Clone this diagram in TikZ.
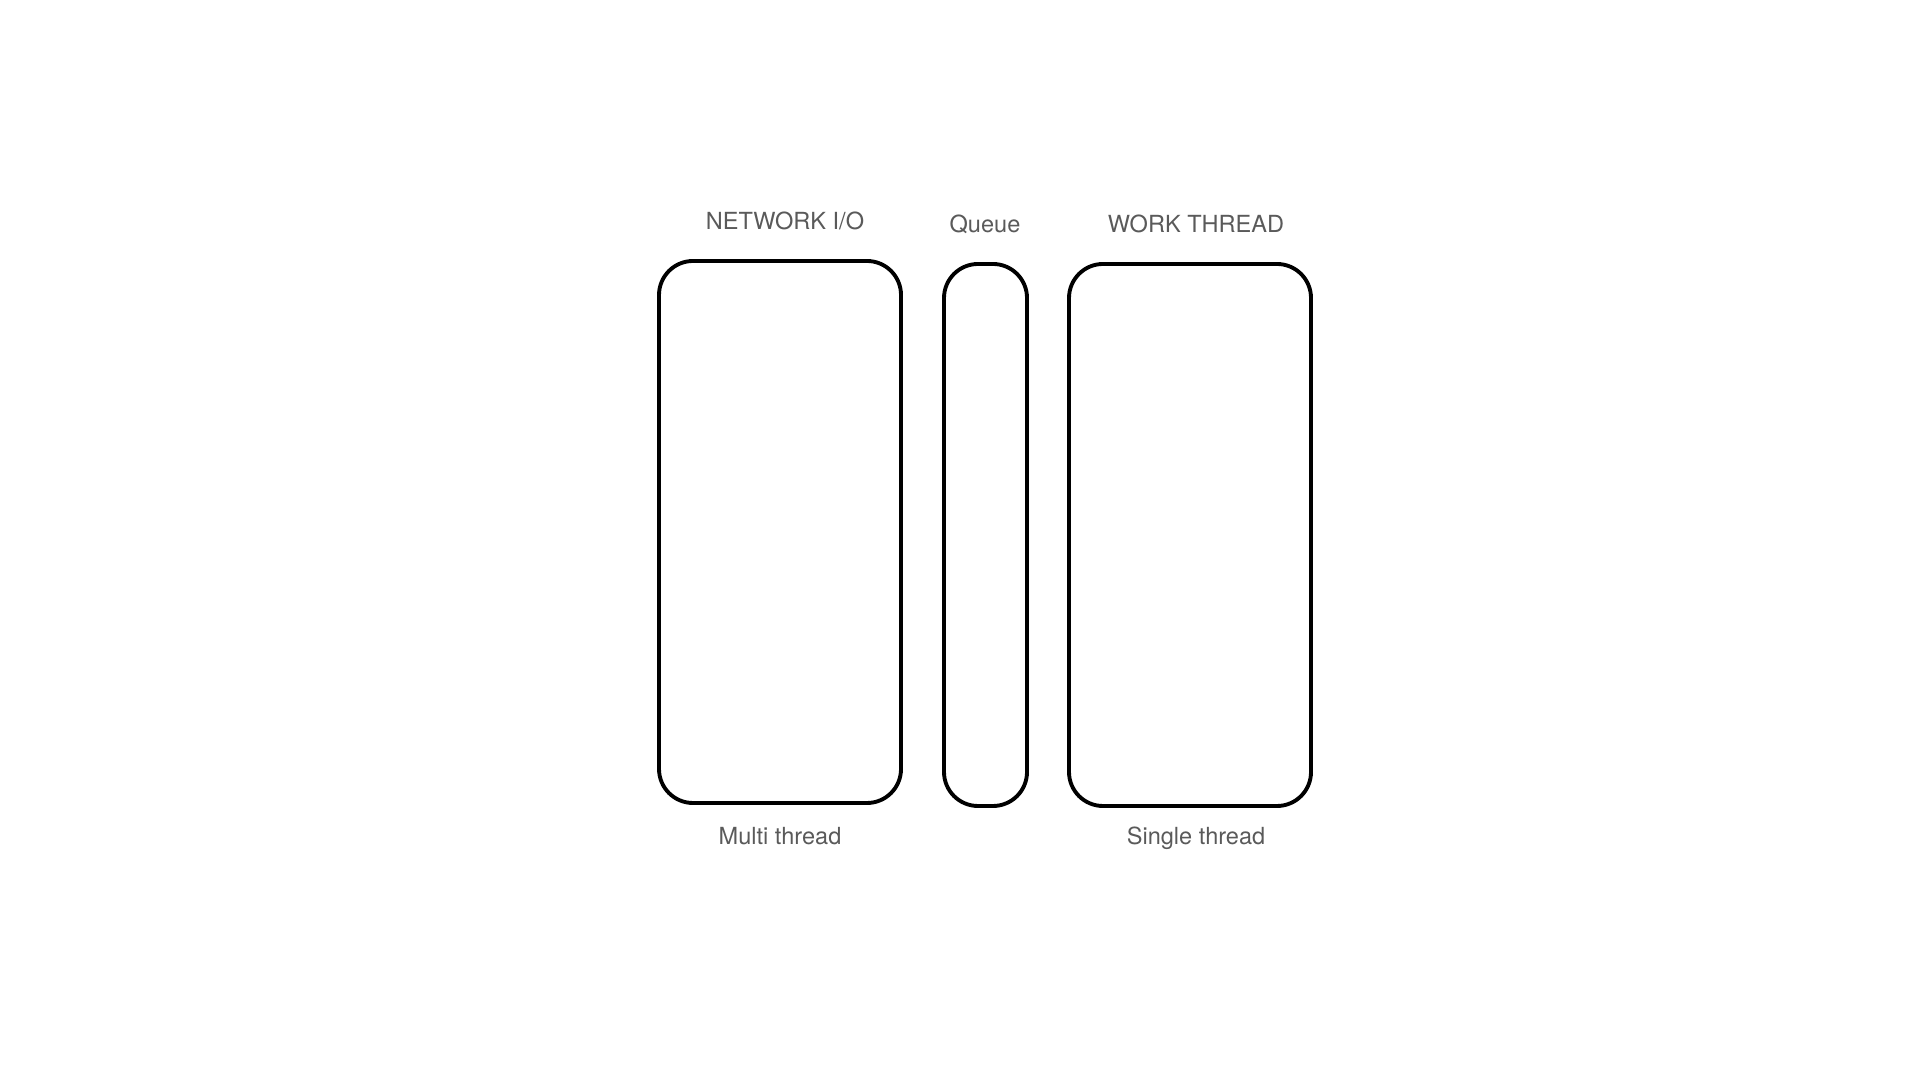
\documentclass[tikz,border=0pt]{standalone}
\usepackage{fontspec}
\setmainfont{TeX Gyre Heros}
\usetikzlibrary{positioning}
\definecolor{labelgray}{HTML}{5A5A5A}
\begin{document}
\begin{tikzpicture}[
    box/.style={draw, line width=1.1pt, rounded corners=0.34cm, inner sep=0pt},
    lbl/.style={text=labelgray, font=\fontsize{6.7}{8}\selectfont, inner sep=0pt}
  ]
  \useasboundingbox (0,0) rectangle (19.2,10.8);
  \node[box, minimum width=2.42cm, minimum height=5.42cm] (netio) at (7.80,5.48) {};
  \node[box, minimum width=0.83cm, minimum height=5.42cm] (queue) at (9.855,5.45) {};
  \node[box, minimum width=2.42cm, minimum height=5.42cm] (work) at (11.90,5.45) {};
  \node[lbl] (netiolbl) at (7.85,8.59) {NETWORK I/O};
  \node[lbl] (queuelbl) at (9.85,8.56) {Queue};
  \node[lbl] (worklbl) at (11.96,8.56) {WORK THREAD};
  \node[lbl] (multilbl) at (7.80,2.435) {Multi thread};
  \node[lbl] (singlelbl) at (11.96,2.42) {Single thread};
\end{tikzpicture}
\end{document}
